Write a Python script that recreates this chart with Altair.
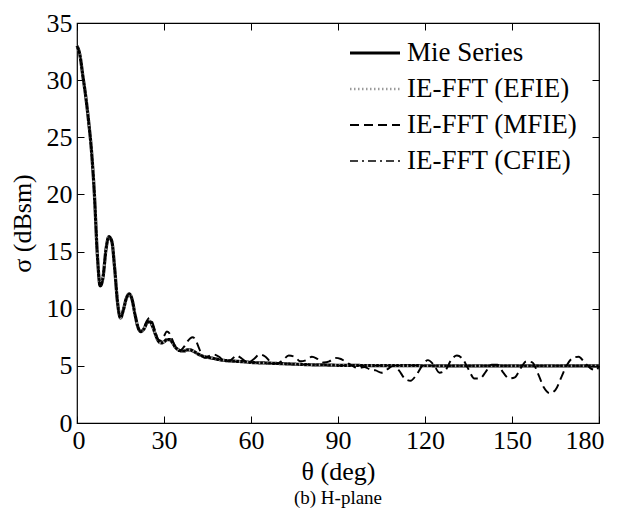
import altair as alt
import pandas as pd

FONT = "Liberation Serif"

series_names = ["Mie Series", "IE-FFT (EFIE)", "IE-FFT (MFIE)", "IE-FFT (CFIE)"]
x_ticks = [0, 30, 60, 90, 120, 150, 180]
y_ticks = [0, 5, 10, 15, 20, 25, 30, 35]

theta_mie = [0, 1, 2, 3, 4, 5, 6, 7, 8, 9, 10, 11, 12, 13, 14, 15, 16, 17, 18, 19, 20,
             21, 22, 23, 24, 25, 26, 27, 28, 29, 30, 31, 32, 33, 34, 35, 36, 37, 38, 39, 40,
             42, 44, 46, 48, 50, 52, 55, 58, 60, 65, 70, 75, 80, 85, 90,
             100, 110, 120, 130, 140, 150, 160, 170, 180]
sigma_mie = [33.0, 32.2, 30.4, 28.6, 26.4, 23.8, 20.0, 14.8, 12.0, 12.8, 15.2, 16.3, 15.9, 13.5, 10.5, 9.2, 9.9, 10.9, 11.3, 10.8, 9.5,
             8.4, 8.0, 8.2, 8.7, 8.9, 8.5, 7.8, 7.2, 7.0, 7.1, 7.3, 7.3, 7.0, 6.6, 6.4, 6.3, 6.3, 6.4, 6.4, 6.3,
             6.0, 5.8, 5.7, 5.6, 5.5, 5.45, 5.4, 5.35, 5.3, 5.25, 5.2, 5.15, 5.1, 5.08, 5.05,
             5.03, 5.02, 5.01, 5.0, 5.0, 5.0, 5.0, 5.0, 5.0]
sigma_efie = [33.0, 32.2, 30.4, 28.6, 26.4, 23.8, 20.0, 14.9, 12.1, 12.8, 15.2, 16.3, 15.9, 13.5, 10.6, 9.2, 9.9, 10.9, 11.3, 10.8, 9.5,
              8.4, 8.0, 8.2, 8.7, 8.9, 8.5, 7.8, 7.2, 7.0, 7.1, 7.3, 7.3, 7.0, 6.6, 6.4, 6.3, 6.3, 6.4, 6.4, 6.3,
              6.0, 5.8, 5.7, 5.6, 5.5, 5.45, 5.4, 5.35, 5.3, 5.25, 5.2, 5.15, 5.1, 5.08, 5.05,
              5.03, 5.02, 5.01, 5.0, 5.0, 5.0, 5.0, 5.0, 5.0]
sigma_cfie = [33.0, 32.2, 30.4, 28.6, 26.4, 23.8, 20.0, 14.8, 12.0, 12.8, 15.2, 16.3, 15.9, 13.5, 10.5, 9.2, 9.9, 10.9, 11.3, 10.8, 9.5,
              8.4, 8.0, 8.2, 8.7, 8.9, 8.5, 7.8, 7.2, 7.0, 7.1, 7.3, 7.3, 7.0, 6.6, 6.4, 6.3, 6.3, 6.4, 6.4, 6.3,
              6.0, 5.8, 5.7, 5.6, 5.5, 5.45, 5.4, 5.35, 5.3, 5.25, 5.2, 5.15, 5.1, 5.08, 5.05,
              5.03, 5.02, 5.01, 5.0, 5.0, 5.0, 5.0, 5.0, 4.9]

theta_mfie = [0, 1, 2, 3, 4, 5, 6, 7, 8, 9, 10, 11, 12, 13, 14, 15, 16, 17, 18, 19, 20, 21, 22,
              23, 24, 25, 26, 27, 28, 29, 30, 31, 32, 33, 34, 35, 36, 37, 38, 39, 40, 41, 42, 43, 44, 45,
              47, 49, 51, 53, 55, 57, 59, 61, 63, 65, 67, 69, 71, 73, 75, 77, 79, 81, 83, 85, 87, 89,
              91, 93, 95, 97, 99, 101, 103, 105, 107, 109, 111, 113, 115, 117, 119, 121, 123, 125, 127, 129,
              131, 133, 135, 137, 139, 141, 143, 145, 147, 149, 151, 153, 155, 157, 159, 161, 163, 165, 167,
              169, 171, 173, 175, 177, 179, 180]
sigma_mfie = [33.0, 32.2, 30.4, 28.6, 26.4, 23.8, 20.0, 14.8, 12.0, 12.8, 15.2, 16.3, 15.9, 13.5, 10.5, 9.2, 9.9, 10.9, 11.3, 10.8, 9.5, 8.4, 8.0,
              8.3, 8.9, 9.2, 8.8, 8.0, 7.3, 7.2, 7.6, 8.0, 7.8, 7.2, 6.6, 6.3, 6.4, 6.7, 7.1, 7.4, 7.5, 7.2, 6.6, 6.0, 5.7, 5.8,
              6.0, 5.8, 5.4, 5.5, 5.9, 5.6, 5.3, 5.6, 6.0, 5.8, 5.3, 5.2, 5.5, 5.9, 5.8, 5.4, 5.5, 5.8, 5.6, 5.3, 5.4, 5.7,
              5.6, 5.3, 5.0, 4.8, 4.9, 4.7, 4.6, 4.4, 4.7, 5.0, 4.6, 3.9, 3.7, 4.2, 5.0, 5.5, 5.1, 4.4, 4.6, 5.5,
              5.9, 5.6, 4.7, 3.9, 3.9, 4.5, 5.1, 5.1, 4.4, 3.9, 4.0, 4.8, 5.4, 5.3, 4.3, 3.1, 2.6, 2.9, 4.0,
              5.1, 5.7, 5.8, 5.3, 4.8, 4.6, 5.0]

rows = []
for name, th, sg in [
    (series_names[0], theta_mie, sigma_mie),
    (series_names[1], theta_mie, sigma_efie),
    (series_names[3], theta_mie, sigma_cfie),
    (series_names[2], theta_mfie, sigma_mfie),
]:
    for t, s in zip(th, sg):
        rows.append({"theta": t, "sigma": s, "series": name})
df = pd.DataFrame(rows)

legend = alt.Legend(
    title=None, orient="none", legendX=271, legendY=14,
    symbolType="stroke", symbolSize=2500, symbolStrokeWidth=2.5,
    labelFont=FONT, labelFontSize=27, labelColor="black", labelOffset=5,
    clipHeight=32, rowPadding=4, padding=0, labelLimit=400,
)

lines = alt.Chart(df).mark_line(interpolate="monotone").encode(
    x=alt.X("theta:Q", scale=alt.Scale(domain=[0, 180], nice=False, zero=False),
            axis=alt.Axis(orient="bottom", values=x_ticks, title="θ (deg)", domain=False,
                          grid=False, tickSize=7, offset=-7, tickColor="black",
                          labelFlush=True, labelFlushOffset=5, labelOverlap=False,
                          labelPadding=4, labelFont=FONT, labelFontSize=26, labelColor="black",
                          titleFont=FONT, titleFontSize=26, titleFontWeight="normal",
                          titleColor="black", titlePadding=5)),
    y=alt.Y("sigma:Q", scale=alt.Scale(domain=[0, 35], nice=False, zero=False),
            axis=alt.Axis(orient="left", values=y_ticks, title="σ (dBsm)", domain=False,
                          grid=False, tickSize=7, offset=-7, tickColor="black", labelFlush=False,
                          labelOverlap=False,
                          labelPadding=5, labelFont=FONT, labelFontSize=26, labelColor="black",
                          titleFont=FONT, titleFontSize=26, titleFontWeight="normal",
                          titleColor="black", titlePadding=11)),
    color=alt.Color("series:N", scale=alt.Scale(domain=series_names,
                    range=["black", "#9a9a9a", "black", "black"]), legend=legend),
    strokeDash=alt.StrokeDash("series:N", scale=alt.Scale(domain=series_names,
                    range=[[1, 0], [1.5, 2.5], [9, 5], [8, 4, 2, 4]]), legend=legend),
    strokeWidth=alt.StrokeWidth("series:N", scale=alt.Scale(domain=series_names,
                    range=[3.2, 1.3, 2.6, 2.2]), legend=legend),
)

frame = alt.Chart(pd.DataFrame({"theta": theta_mie, "sigma": sigma_mie})).mark_line(opacity=0).encode(
    x=alt.X("theta:Q", axis=alt.Axis(orient="top", values=x_ticks, labels=False, title=None,
                                     domain=False, grid=False, tickSize=7, offset=-7, tickColor="black")),
    y=alt.Y("sigma:Q", axis=alt.Axis(orient="right", values=y_ticks, labels=False, title=None,
                                     domain=False, grid=False, tickSize=7, offset=-7, tickColor="black")),
)

chart = alt.layer(lines, frame).resolve_axis(x="independent", y="independent").properties(
    width=522, height=400,
    autosize=alt.AutoSizeParams(type="none"),
    padding={"left": 69, "top": 15, "right": 13, "bottom": 87},
    title=alt.TitleParams("(b) H-plane", orient="bottom", font=FONT, fontSize=19,
                          fontWeight="normal", color="black", offset=5),
).configure(
    background="white", font=FONT
).configure_view(stroke="black", strokeWidth=1.2)

chart.save("out.html", embed_options={"renderer": "svg", "actions": False})
